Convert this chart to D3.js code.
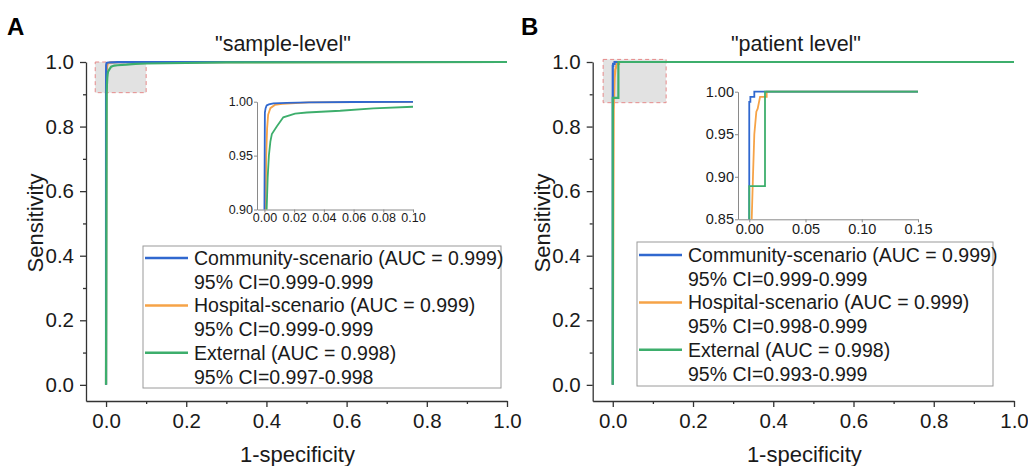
<!DOCTYPE html>
<html lang="en">
<head>
<meta charset="UTF-8">
<title>ROC curves</title>
<script src="https://d3js.org/d3.v7.min.js"></script>
<style>
  body { margin: 0; background: #fff; }
  svg { display: block; font-family: "Liberation Sans", Arial, sans-serif; }
</style>
</head>
<body>
<svg id="chart"></svg>
<script>
// ---- data ----
const seriesNames = ["Community-scenario", "Hospital-scenario", "External"];
const seriesColors = ["#3068cf", "#f6a347", "#3dae6c"];

// sample level ROC points [1-specificity, sensitivity]
const sampleCommunity = [[0,0],[0,0.9],[0.0003,0.99],[0.0008,0.994],[0.0015,0.9965],[0.003,0.9975],[0.006,0.9985],[0.015,0.999],[0.03,0.9994],[0.06,0.9997],[0.1,0.9999],[1,1]];
const sampleHospital = [[0,0],[0.0008,0.9],[0.0012,0.95],[0.0018,0.975],[0.0025,0.988],[0.004,0.994],[0.007,0.997],[0.012,0.998],[0.03,0.9993],[0.1,0.9998],[1,1]];
const sampleExternal = [[0,0],[0.0015,0.9],[0.0022,0.93],[0.003,0.95],[0.004,0.963],[0.005,0.97],[0.0083,0.977],[0.0127,0.9855],[0.0206,0.989],[0.0285,0.99],[0.051,0.9916],[0.0733,0.9939],[0.1,0.9953],[0.3,0.999],[1,1]];

// patient level ROC points
const patientCommunity = [[0,0],[0,0.988],[0.001,0.988],[0.001,0.994],[0.0045,0.994],[0.0045,1],[1,1]];
const patientHospital = [[0,0],[0.0015,0.6],[0.0022,0.85],[0.0033,0.9],[0.0045,0.95],[0.0063,0.9765],[0.0075,0.98],[0.0096,0.994],[0.0155,0.994],[0.0155,1],[1,1]];
const patientExternal = [[0,0],[0,0.889],[0.014,0.889],[0.014,1],[1,1]];

const sampleLegend = [
  ["Community-scenario (AUC = 0.999)", "95% CI=0.999-0.999"],
  ["Hospital-scenario (AUC = 0.999)", "95% CI=0.999-0.999"],
  ["External (AUC = 0.998)", "95% CI=0.997-0.998"]
];
const patientLegend = [
  ["Community-scenario (AUC = 0.999)", "95% CI=0.999-0.999"],
  ["Hospital-scenario (AUC = 0.999)", "95% CI=0.998-0.999"],
  ["External (AUC = 0.998)", "95% CI=0.993-0.999"]
];

const mainTicks = [0, 0.2, 0.4, 0.6, 0.8, 1.0];
const mainMinor = [0.1, 0.3, 0.5, 0.7, 0.9];

const svg = d3.select("#chart").attr("width", 1028).attr("height", 466);
const axisColor = "#333";
const textColor = "#1a1a1a";

function styleAxis(g, fontSize, color) {
  g.select(".domain").attr("stroke", color).attr("stroke-width", 1.3);
  g.selectAll(".tick line").attr("stroke", color).attr("stroke-width", 1.3);
  g.selectAll(".tick text").attr("fill", textColor).attr("font-size", fontSize)
    .attr("font-family", "Liberation Sans, Arial, sans-serif");
}

function drawPanel(p) {
  const g = svg.append("g");
  const x = d3.scaleLinear().domain([-0.05, 1]).range([p.left, p.right]);
  const y = d3.scaleLinear().domain([-0.05, 1]).range([401, 62]);

  // zoom region marker
  g.append("rect")
    .attr("x", x(p.zoomBox[0])).attr("y", y(p.zoomBox[3]))
    .attr("width", x(p.zoomBox[1]) - x(p.zoomBox[0]))
    .attr("height", y(p.zoomBox[2]) - y(p.zoomBox[3]))
    .attr("fill", "#e2e2e2").attr("stroke", "#e58a8a")
    .attr("stroke-width", 1).attr("stroke-dasharray", "4,3");

  // axes
  const xa = g.append("g").attr("transform", "translate(0,401)")
    .call(d3.axisBottom(x).tickValues(mainTicks).tickFormat(d3.format(".1f"))
      .tickSize(6).tickSizeOuter(0).tickPadding(6));
  styleAxis(xa, 20.5, axisColor);
  const xm = g.append("g").attr("transform", "translate(0,401)")
    .call(d3.axisBottom(x).tickValues(mainMinor).tickFormat("").tickSize(3));
  xm.select(".domain").remove();
  xm.selectAll(".tick line").attr("stroke", axisColor).attr("stroke-width", 1.3);

  const ya = g.append("g").attr("transform", `translate(${p.left},0)`)
    .call(d3.axisLeft(y).tickValues(mainTicks).tickFormat(d3.format(".1f"))
      .tickSize(6).tickSizeOuter(0).tickPadding(6));
  styleAxis(ya, 20.5, axisColor);
  const ym = g.append("g").attr("transform", `translate(${p.left},0)`)
    .call(d3.axisLeft(y).tickValues(mainMinor).tickFormat("").tickSize(3));
  ym.select(".domain").remove();
  ym.selectAll(".tick line").attr("stroke", axisColor).attr("stroke-width", 1.3);

  // curves (hospital first, then community, external on top)
  const line = d3.line().x(d => x(d[0])).y(d => y(d[1]));
  [1, 0, 2].forEach(i => {
    g.append("path").datum(p.series[i]).attr("d", line)
      .attr("fill", "none").attr("stroke", seriesColors[i]).attr("stroke-width", 2.2);
  });

  // labels
  g.append("text").attr("x", p.letterX).attr("y", 35).text(p.letter)
    .attr("font-size", 24).attr("font-weight", "bold").attr("fill", "#000");
  g.append("text").attr("x", p.titleX).attr("y", 51).text(p.title)
    .attr("text-anchor", "middle").attr("font-size", 21.5).attr("fill", textColor);
  g.append("text").attr("x", (p.left + p.right) / 2 + 1).attr("y", 462).text("1-specificity")
    .attr("text-anchor", "middle").attr("font-size", 22).attr("fill", textColor);
  g.append("text").attr("transform", `translate(${p.left - 43},223) rotate(-90)`)
    .text("Sensitivity").attr("text-anchor", "middle").attr("font-size", 22).attr("fill", textColor);

  // inset
  const ins = p.inset;
  const ix = d3.scaleLinear().domain(ins.xDomain).range([ins.left, ins.right]);
  const iy = d3.scaleLinear().domain(ins.yDomain).range([ins.bottom, ins.top]);
  const clipId = "clip-" + p.letter;
  g.append("clipPath").attr("id", clipId).append("rect")
    .attr("x", ins.left).attr("y", ins.top - 2)
    .attr("width", ins.right - ins.left).attr("height", ins.bottom - ins.top + 2);
  const ixa = g.append("g").attr("transform", `translate(0,${ins.bottom})`)
    .call(d3.axisBottom(ix).tickValues(ins.xTicks).tickFormat(d3.format(".2f"))
      .tickSize(3).tickSizeOuter(0).tickPadding(1));
  styleAxis(ixa, ins.font, "#8a8a8a");
  ixa.selectAll(".domain, .tick line").attr("stroke-width", 1);
  const iya = g.append("g").attr("transform", `translate(${ins.left},0)`)
    .call(d3.axisLeft(iy).tickValues(ins.yTicks).tickFormat(d3.format(".2f"))
      .tickSize(3).tickSizeOuter(0).tickPadding(1));
  styleAxis(iya, ins.font, "#8a8a8a");
  iya.selectAll(".domain, .tick line").attr("stroke-width", 1);
  const iline = d3.line().x(d => ix(d[0])).y(d => iy(d[1]));
  const cg = g.append("g").attr("clip-path", `url(#${clipId})`);
  [1, 0, 2].forEach(i => {
    cg.append("path").datum(p.series[i]).attr("d", iline)
      .attr("fill", "none").attr("stroke", seriesColors[i]).attr("stroke-width", 1.8);
  });

  // legend
  const L = p.legend;
  g.append("rect").attr("x", L.x).attr("y", L.y).attr("width", L.w).attr("height", L.h)
    .attr("fill", "#fff").attr("stroke", "#9a9a9a").attr("stroke-width", 1);
  p.legendText.forEach((rows, i) => {
    const ry = L.y + L.first + i * 2 * L.step;
    g.append("line").attr("x1", L.x + 2).attr("x2", L.x + L.lineLen)
      .attr("y1", ry).attr("y2", ry)
      .attr("stroke", seriesColors[i]).attr("stroke-width", 2.5);
    g.append("text").attr("x", L.textX).attr("y", ry + 7).text(rows[0])
      .attr("font-size", 19.5).attr("fill", textColor);
    g.append("text").attr("x", L.textX).attr("y", ry + L.step + 7).text(rows[1])
      .attr("font-size", 19.5).attr("fill", textColor);
  });
}

drawPanel({
  letter: "A", letterX: 7, title: "\"sample-level\"", titleX: 283,
  left: 86, right: 507,
  series: [sampleCommunity, sampleHospital, sampleExternal],
  zoomBox: [-0.027, 0.1, 0.905, 1.0],
  inset: { xDomain: [-0.005, 0.1], yDomain: [0.9, 1.0], left: 257, right: 413, top: 101.7, bottom: 209.5,
           xTicks: [0, 0.02, 0.04, 0.06, 0.08, 0.1], yTicks: [0.9, 0.95, 1.0], font: 12.5 },
  legend: { x: 143, y: 246, w: 358, h: 142, first: 12, step: 23.7, lineLen: 45, textX: 194 },
  legendText: sampleLegend
});

drawPanel({
  letter: "B", letterX: 521, title: "\"patient level\"", titleX: 796,
  left: 592.7, right: 1014,
  series: [patientCommunity, patientHospital, patientExternal],
  zoomBox: [-0.024, 0.133, 0.874, 1.008],
  inset: { xDomain: [-0.01, 0.15], yDomain: [0.85, 1.0], left: 738, right: 918, top: 91.7, bottom: 219.3,
           xTicks: [0, 0.05, 0.1, 0.15], yTicks: [0.85, 0.9, 0.95, 1.0], font: 14.5 },
  legend: { x: 637, y: 242, w: 356, h: 144, first: 13, step: 23.7, lineLen: 45, textX: 688 },
  legendText: patientLegend
});
</script>
</body>
</html>
